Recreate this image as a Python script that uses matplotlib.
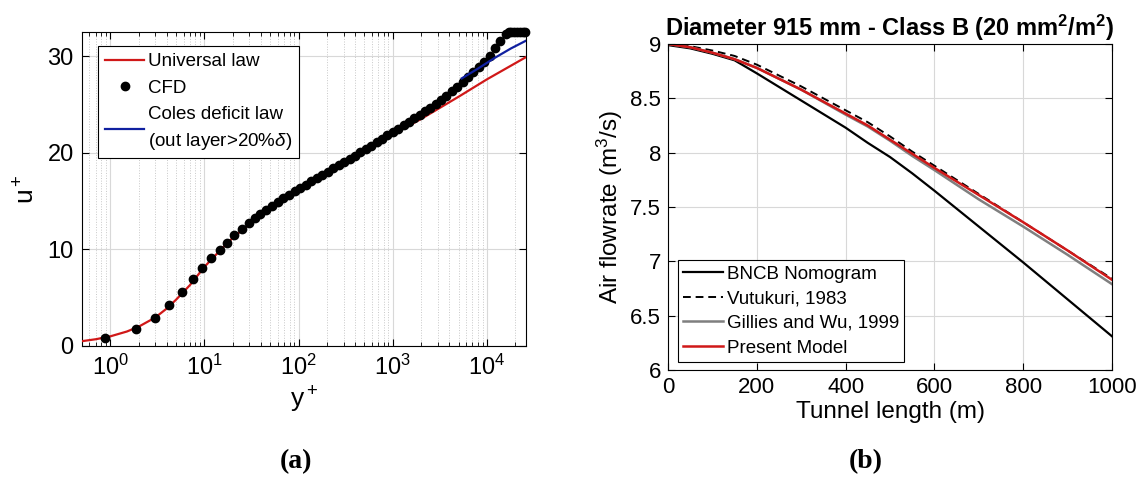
import numpy as np
import matplotlib.pyplot as plt
from matplotlib.ticker import LogLocator, FormatStrFormatter, NullFormatter

plt.rcParams['font.family'] = ['Liberation Sans', 'DejaVu Sans']
plt.rcParams['mathtext.fontset'] = 'custom'
plt.rcParams['mathtext.rm'] = 'Liberation Sans'
plt.rcParams['mathtext.it'] = 'Liberation Sans:italic'
plt.rcParams['mathtext.bf'] = 'Liberation Sans:bold'

# ---- (a) velocity profile ----
law_yp = [0.5, 0.7, 1, 1.5, 2, 3, 4, 5, 7, 10, 15, 20, 30, 50, 70, 100, 200,
          500, 1000, 2000, 5000, 10000, 26000]
law_up = [0.5, 0.7, 1.0, 1.5, 2.0, 2.95, 3.9, 4.8, 6.3, 8.2, 10.0, 11.2, 12.6,
          14.2, 15.1, 16.2, 17.9, 20.0, 21.9, 23.5, 25.8, 27.6, 29.9]

cfd_yp = [0.87, 1.86, 3.0, 4.2, 5.8, 7.5, 9.4, 11.8, 14.5, 17.4, 20.8, 25.2,
          29.4, 34, 39, 45, 52, 60, 69, 79, 91, 104, 119, 136, 156, 178, 204,
          233, 266, 304, 347, 396, 452, 516, 589, 672, 767, 875, 999, 1140,
          1300, 1480, 1690, 1930, 2200, 2510, 2860, 3260, 3720, 4240, 4840,
          5520, 6300, 7180, 8190, 9340, 10650, 12150, 13850, 15800, 17000,
          18000, 19500, 21000, 22500, 24000, 25500]
cfd_up = [0.83, 1.8, 2.94, 4.22, 5.57, 6.89, 8.03, 9.07, 9.93, 10.7, 11.45,
          12.1, 12.7, 13.2, 13.7, 14.1, 14.5, 14.9, 15.3, 15.6, 16.0, 16.35,
          16.7, 17.05, 17.4, 17.7, 18.05, 18.4, 18.7, 19.05, 19.4, 19.7, 20.05,
          20.4, 20.75, 21.1, 21.45, 21.8, 22.15, 22.5, 22.85, 23.2, 23.55,
          23.9, 24.3, 24.65, 25.05, 25.45, 25.9, 26.35, 26.8, 27.3, 27.8,
          28.35, 28.9, 29.4, 30.0, 30.8, 31.6, 32.3, 32.5, 32.5, 32.5, 32.5,
          32.5, 32.5, 32.5]

coles_yp = [5400, 8000, 12000, 18000, 26000]
coles_up = [27.7, 28.7, 29.8, 30.8, 31.6]

# ---- (b) air flowrate along tunnel ----
length_m = [0, 50, 100, 150, 200, 300, 400, 450, 500, 550, 600, 700, 800, 900, 1000]
bncb = [8.99, 8.96, 8.91, 8.85, 8.73, 8.48, 8.23, 8.09, 7.96, 7.81, 7.65, 7.32, 6.99, 6.65, 6.31]
vutukuri = [9.0, 8.98, 8.94, 8.89, 8.81, 8.61, 8.39, 8.28, 8.15, 8.01, 7.88, 7.62, 7.36, 7.10, 6.84]
gillies = [9.0, 8.97, 8.92, 8.86, 8.78, 8.58, 8.35, 8.24, 8.11, 7.97, 7.84, 7.57, 7.32, 7.06, 6.79]
present = [9.0, 8.97, 8.92, 8.86, 8.78, 8.58, 8.36, 8.25, 8.12, 7.99, 7.86, 7.61, 7.36, 7.10, 6.83]

red = '#d01818'
fig = plt.figure(figsize=(11.43, 4.94), dpi=100)

ax1 = fig.add_axes([82 / 1143, 1 - 346 / 494, 444 / 1143, 314 / 494])
ax1.semilogx(law_yp, law_up, color=red, lw=1.6, label='Universal law', zorder=3)
ax1.plot(cfd_yp, cfd_up, 'o', color='k', ms=6, label='CFD', zorder=4, clip_on=False)
ax1.plot(coles_yp, coles_up, color='#1020a0', lw=1.6,
         label='Coles deficit law\n(out layer>20%$\\delta$)', zorder=5)
ax1.set_xlim(0.5, 26000)
ax1.set_ylim(0, 32.5)
ax1.set_yticks([0, 10, 20, 30])
ax1.xaxis.set_major_locator(LogLocator(base=10, numticks=10))
ax1.xaxis.set_minor_locator(LogLocator(base=10, subs=np.arange(2, 10), numticks=20))
ax1.xaxis.set_minor_formatter(NullFormatter())
ax1.grid(True, which='major', color='#d8d8d8', lw=0.8)
ax1.grid(True, which='minor', axis='x', color='#c8c8c8', lw=0.7, ls=':')
ax1.tick_params(which='both', direction='in', top=True, right=True, labelsize=17)
ax1.tick_params(which='major', length=5, pad=6)
ax1.tick_params(which='minor', length=3)
ax1.set_xlabel('y$^+$', fontsize=19, labelpad=4)
ax1.set_ylabel('u$^+$', fontsize=19, labelpad=6)
leg1 = ax1.legend(loc='upper left', bbox_to_anchor=(0.037, 0.954), fontsize=13.5,
                  fancybox=False, edgecolor='k', framealpha=1, handlelength=2.1,
                  handletextpad=0.2, borderpad=0.35, labelspacing=0.5,
                  borderaxespad=0)
leg1.get_frame().set_linewidth(0.8)
for t in leg1.get_texts():
    t.set_linespacing(1.5)
for sp in ax1.spines.values():
    sp.set_linewidth(0.8)

ax2 = fig.add_axes([668 / 1143, 1 - 370 / 494, 444 / 1143, 326 / 494])
ax2.plot(length_m, bncb, color='k', lw=1.6, label='BNCB Nomogram')
ax2.plot(length_m, vutukuri, color='k', lw=1.4, ls=(0, (4, 2.5)), label='Vutukuri, 1983')
ax2.plot(length_m, gillies, color='#7f7f7f', lw=1.8, label='Gillies and Wu, 1999')
ax2.plot(length_m, present, color=red, lw=1.8, label='Present Model')
ax2.set_xlim(0, 1000)
ax2.set_ylim(6, 9)
ax2.set_xticks(range(0, 1001, 200))
ax2.set_yticks(np.arange(6, 9.01, 0.5))
ax2.yaxis.set_major_formatter(FormatStrFormatter('%g'))
ax2.grid(True, color='#d8d8d8', lw=0.8)
ax2.tick_params(direction='in', top=True, right=True, labelsize=16, length=5, pad=5)
ax2.set_xlabel('Tunnel length (m)', fontsize=17.5, labelpad=2)
ax2.set_ylabel('Air flowrate (m$^3$/s)', fontsize=17.5, labelpad=4)
ax2.set_title('Diameter 915 mm - Class B (20 mm$^\\mathbf{2}$/m$^\\mathbf{2}$)',
              fontsize=17, fontweight='bold', pad=6)
leg2 = ax2.legend(loc='lower left', bbox_to_anchor=(0.022, 0.024), fontsize=13.5,
                  fancybox=False, edgecolor='k', framealpha=1, handlelength=2.1,
                  handletextpad=0.2, borderpad=0.3, labelspacing=0.4,
                  borderaxespad=0)
leg2.get_frame().set_linewidth(0.8)
for sp in ax2.spines.values():
    sp.set_linewidth(0.8)

fig.text(296 / 1143, 1 - 462 / 494, '(a)', family='Liberation Serif', fontweight='bold',
         fontsize=20, ha='center', va='center')
fig.text(866 / 1143, 1 - 462 / 494, '(b)', family='Liberation Serif', fontweight='bold',
         fontsize=20, ha='center', va='center')

fig.savefig('out.png', dpi=100)
